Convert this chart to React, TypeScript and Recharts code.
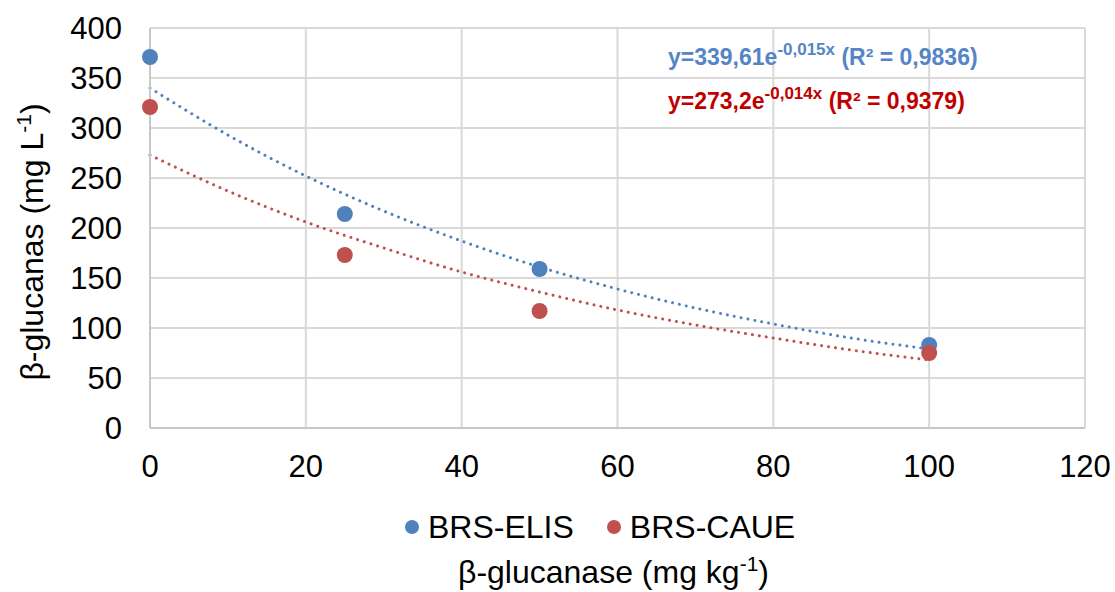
import { ComposedChart, Scatter, Line, XAxis, YAxis, CartesianGrid, Legend } from "recharts";

const doses = [0, 25, 50, 100];
const elisValues = [371, 214, 159, 83];
const caueValues = [321, 173, 117, 75];

// dotted trend lines
const trendDoses = [0, 10, 20, 30, 40, 50, 60, 70, 80, 90, 100];
const elisTrend = [340, 293, 252, 217, 187, 161, 139, 120, 104, 90, 79];
const caueTrend = [273, 237, 206, 180, 156, 136, 118, 103, 90, 78, 68];

const xTicks = [0, 20, 40, 60, 80, 100, 120];
const yTicks = [0, 50, 100, 150, 200, 250, 300, 350, 400];

const BLUE = "#4F81BD";
const RED = "#C0504D";
const FONT = "'Liberation Sans', Arial, sans-serif";

const elisData = doses.map((x, i) => ({ x, y: elisValues[i] }));
const caueData = doses.map((x, i) => ({ x, y: caueValues[i] }));
const elisTrendData = trendDoses.map((x, i) => ({ x, y: elisTrend[i] }));
const caueTrendData = trendDoses.map((x, i) => ({ x, y: caueTrend[i] }));

const legendItems = [
  { name: "BRS-ELIS", color: BLUE },
  { name: "BRS-CAUE", color: RED },
];

function LegendContent() {
  return (
    <div style={{ display: "flex", alignItems: "center", height: 36, paddingLeft: 405, fontFamily: FONT, fontSize: 32, color: "#000" }}>
      {legendItems.map((it) => (
        <div key={it.name} style={{ display: "flex", alignItems: "center", marginRight: 33 }}>
          <span style={{ width: 14, height: 14, borderRadius: 7, background: it.color, marginRight: 9 }} />
          <span>{it.name}</span>
        </div>
      ))}
    </div>
  );
}

export default function App() {
  return (
    <div style={{ position: "relative", width: 1115, height: 592 }}>
      <style>{`body{margin:0}`}</style>
      <ComposedChart width={1115} height={592} margin={{ top: 28, right: 30, left: 0, bottom: 47 }}>
        <CartesianGrid stroke="#d9d9d9" strokeWidth={2} />
        <XAxis
          dataKey="x"
          type="number"
          domain={[0, 120]}
          ticks={xTicks}
          height={81}
          tickSize={0}
          tickMargin={27}
          tick={{ fill: "#000", fontSize: 31, fontFamily: FONT }}
          axisLine={{ stroke: "#c8c8c8", strokeWidth: 2 }}
          label={({ viewBox }: any) => (
            <text x={viewBox.x + viewBox.width / 2 - 4} y={viewBox.y + 155} textAnchor="middle" fontSize={32} fontFamily={FONT} fill="#000">
              β-glucanase (mg kg<tspan dy={-12} fontSize={21}>-1</tspan><tspan dy={12}>)</tspan>
            </text>
          )}
        />
        <YAxis
          type="number"
          domain={[0, 400]}
          ticks={yTicks}
          width={150}
          tickSize={0}
          tickMargin={28}
          tick={{ fill: "#000", fontSize: 31, fontFamily: FONT }}
          axisLine={{ stroke: "#c8c8c8", strokeWidth: 2 }}
          label={() => (
            <text x={43} y={242} transform="rotate(-90, 43, 242)" textAnchor="middle" fontSize={32} fontFamily={FONT} fill="#000">
              β-glucanas (mg L<tspan dy={-12} fontSize={21}>-1</tspan><tspan dy={12}>)</tspan>
            </text>
          )}
        />
        <Legend verticalAlign="bottom" content={<LegendContent />} />
        <Line
          data={elisTrendData}
          dataKey="y"
          type="monotone"
          stroke={BLUE}
          strokeWidth={3}
          strokeDasharray="0.01 7"
          strokeLinecap="round"
          dot={false}
          activeDot={false}
          legendType="none"
          isAnimationActive={false}
        />
        <Line
          data={caueTrendData}
          dataKey="y"
          type="monotone"
          stroke={RED}
          strokeWidth={3}
          strokeDasharray="0.01 7"
          strokeLinecap="round"
          dot={false}
          activeDot={false}
          legendType="none"
          isAnimationActive={false}
        />
        <Scatter data={elisData} dataKey="y" fill={BLUE} shape={(p: any) => <circle cx={p.cx} cy={p.cy} r={8} fill={BLUE} />} isAnimationActive={false} />
        <Scatter data={caueData} dataKey="y" fill={RED} shape={(p: any) => <circle cx={p.cx} cy={p.cy} r={8} fill={RED} />} isAnimationActive={false} />
      </ComposedChart>
      <svg width={1115} height={592} style={{ position: "absolute", left: 0, top: 0, pointerEvents: "none" }}>
        <text x={668} y={65} fontSize={23} fontWeight="bold" fontFamily={FONT} fill="#5585C5">
          y=339,61e<tspan dy={-10} fontSize={17}>-0,015x</tspan>
          <tspan dy={10}> (R² = 0,9836)</tspan>
        </text>
        <text x={668} y={109} fontSize={23} fontWeight="bold" fontFamily={FONT} fill="#C00000">
          y=273,2e<tspan dy={-10} fontSize={17}>-0,014x</tspan>
          <tspan dy={10}> (R² = 0,9379)</tspan>
        </text>
      </svg>
    </div>
  );
}
